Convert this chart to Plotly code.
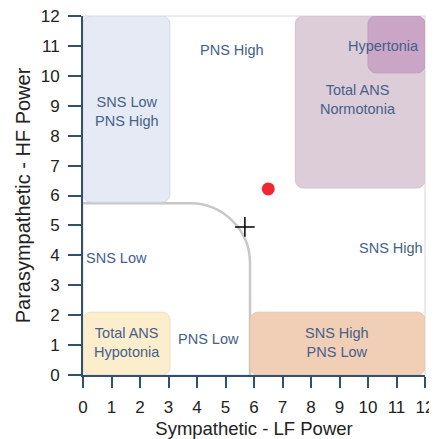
import plotly.graph_objects as go

# zones of the autonomic balance chart (LF on x, HF on y)
zone_names = ["SNS Low PNS High", "Total ANS Normotonia", "Hypertonia",
              "Total ANS Hypotonia", "SNS High PNS Low"]
zone_x0 = [0.0, 7.45, 10.0, 0.0, 5.86]
zone_x1 = [3.05, 12.0, 12.0, 3.05, 12.0]
zone_y0 = [5.78, 6.25, 10.1, 0.0, 0.0]
zone_y1 = [12.0, 12.0, 12.0, 2.1, 2.1]
zone_fill = ["#e6eaf4", "#dccdd9", "#cba5c6", "#fcedcc", "#f1cfb6"]
zone_line = ["#d3d8e3", "#d3c3d0", "#c29cbd", "#eadcbc", "#e5c4ab"]

labels = ["PNS High", "SNS Low<br>PNS High", "Hypertonia", "Total ANS<br>Normotonia",
          "SNS Low", "SNS High", "Total ANS<br>Hypotonia", "PNS Low", "SNS High<br>PNS Low"]
label_x = [5.23, 1.54, 10.56, 9.65, 0.05, 12.0, 1.54, 4.4, 8.9]
label_y = [10.85, 8.8, 11.0, 9.2, 3.9, 4.25, 1.1, 1.2, 1.1]
label_anchor = ["center", "center", "center", "center", "left", "right", "center", "center", "center"]

tick_vals = list(range(13))

point_x = [6.5]
point_y = [6.22]
cursor_x = [5.68]
cursor_y = [4.95]

# rounded corner of the "low" zone
bend_x = 5.86
bend_y = 5.74
bend_rx = 2.1
bend_ry = 2.0


def rounded_rect(x0, x1, y0, y1, rx=0.28, ry=0.27):
    k = 0.45
    return (
        f"M {x0 + rx},{y0} L {x1 - rx},{y0} "
        f"C {x1 - rx * k},{y0} {x1},{y0 + ry * k} {x1},{y0 + ry} "
        f"L {x1},{y1 - ry} "
        f"C {x1},{y1 - ry * k} {x1 - rx * k},{y1} {x1 - rx},{y1} "
        f"L {x0 + rx},{y1} "
        f"C {x0 + rx * k},{y1} {x0},{y1 - ry * k} {x0},{y1 - ry} "
        f"L {x0},{y0 + ry} "
        f"C {x0},{y0 + ry * k} {x0 + rx * k},{y0} {x0 + rx},{y0} Z"
    )


fig = go.Figure()

# plot-area frame (light)
fig.add_shape(type="rect", xref="paper", yref="paper", x0=0, x1=1, y0=0, y1=1,
              line=dict(color="#d8d8d8", width=1), layer="below")

k = 0.55
bend = (
    f"M 0,{bend_y} L {bend_x - bend_rx},{bend_y} "
    f"C {bend_x - bend_rx + k * bend_rx},{bend_y} {bend_x},{bend_y - bend_ry + k * bend_ry} "
    f"{bend_x},{bend_y - bend_ry} L {bend_x},0"
)
fig.add_shape(type="path", path=bend, line=dict(color="#c8c8c8", width=2.5), layer="below")

for i in range(len(zone_names)):
    fig.add_shape(
        type="path",
        path=rounded_rect(zone_x0[i], zone_x1[i], zone_y0[i], zone_y1[i]),
        fillcolor=zone_fill[i],
        line=dict(color=zone_line[i], width=1),
        layer="below",
    )

for t, x, y, a in zip(labels, label_x, label_y, label_anchor):
    fig.add_annotation(x=x, y=y, text=t, showarrow=False, xanchor=a,
                       font=dict(size=14.5, color="#46608a", family="Liberation Sans"))

fig.add_trace(go.Scatter(
    x=point_x, y=point_y, mode="markers",
    marker=dict(size=13, color="#f0282d"), showlegend=False, cliponaxis=False,
))
fig.add_trace(go.Scatter(
    x=cursor_x, y=cursor_y, mode="markers",
    marker=dict(size=14, symbol="cross-thin", line=dict(color="black", width=1.5)),
    showlegend=False,
))

axis_style = dict(
    range=[0, 12],
    tickvals=tick_vals,
    showgrid=False,
    zeroline=False,
    showline=True,
    linecolor="#34506f",
    linewidth=2,
    ticks="outside",
    tickwidth=1.5,
    tickcolor="#34506f",
    tickfont=dict(size=17, color="#222222", family="Liberation Sans"),
    ticklabeloverflow="allow",
    automargin=False,
)
fig.update_xaxes(**axis_style, ticklen=11, ticklabelstandoff=5,
                 title=dict(text="Sympathetic - LF Power", standoff=13,
                            font=dict(size=18.5, color="#222222", family="Liberation Sans")))
fig.update_yaxes(**axis_style, ticklen=13, ticklabelstandoff=5,
                 title=dict(text="Parasympathetic - HF Power", standoff=5,
                            font=dict(size=20, color="#222222", family="Liberation Sans")))

# the page body adds an 8px margin, so the figure is sized to sit inside it
fig.update_layout(
    width=429,
    height=431,
    margin=dict(l=75, r=12, t=8, b=64),
    plot_bgcolor="white",
    paper_bgcolor="white",
    showlegend=False,
)

fig.write_html("out.html")
